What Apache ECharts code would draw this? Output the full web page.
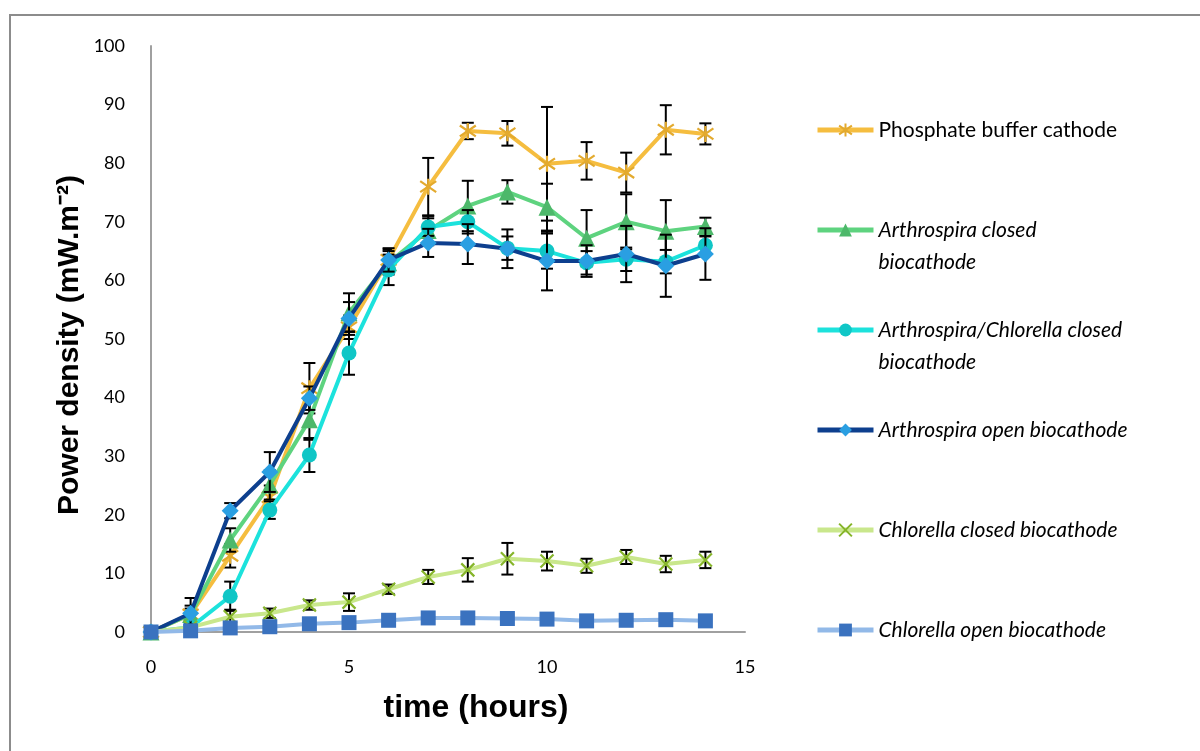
<!DOCTYPE html>
<html>
<head>
<meta charset="utf-8">
<script src="https://cdn.jsdelivr.net/npm/echarts@6/dist/echarts.min.js"></script>
<style>
  html, body { margin: 0; padding: 0; background: #fff; }
  #chart { width: 1200px; height: 751px; }
</style>
</head>
<body>
<div id="chart"></div>
<script>
// Sampling times (hours)
const hours = [0, 1, 2, 3, 4, 5, 6, 7, 8, 9, 10, 11, 12, 13, 14];

// Mean power density (mW.m-2) per cathode type
const phosphateBuffer      = [0, 3.0, 13.0, 23.0, 41.6, 52.0, 63.5, 76.0, 85.5, 85.1, 79.9, 80.4, 78.4, 85.7, 85.0];
const arthrospiraClosed    = [0, 3.0, 15.7, 25.1, 36.2, 54.5, 63.0, 68.5, 72.7, 75.1, 72.5, 67.2, 70.0, 68.4, 69.2];
const arthroChlorClosed    = [0, 0.8, 6.1, 20.8, 30.2, 47.6, 61.8, 69.1, 70.0, 65.5, 65.0, 63.0, 63.6, 63.2, 66.0];
const arthrospiraOpen      = [0, 3.2, 20.7, 27.3, 39.9, 53.5, 63.5, 66.4, 66.2, 65.4, 63.3, 63.3, 64.5, 62.5, 64.5];
const chlorellaClosed      = [0, 0.8, 2.6, 3.2, 4.6, 5.1, 7.3, 9.4, 10.6, 12.5, 12.1, 11.3, 12.8, 11.6, 12.3];
const chlorellaOpen        = [0, 0.2, 0.7, 0.9, 1.4, 1.6, 2.0, 2.4, 2.4, 2.3, 2.2, 1.9, 2.0, 2.1, 1.9];

// Standard deviations (symmetric error bars)
const phosphateBufferErr   = [0, 1.0, 2.0, 2.0, 4.3, 2.0, 1.8, 4.9, 1.4, 2.1, 9.7, 3.2, 3.4, 4.2, 1.8];
const arthrospiraClosedErr = [0, 1.5, 2.0, 2.5, 3.4, 3.3, 2.0, 2.5, 4.3, 2.0, 4.0, 4.8, 4.7, 5.3, 1.5];
const arthroChlorClosedErr = [0, 0.5, 2.5, 1.5, 2.9, 3.7, 2.6, 1.5, 2.0, 2.0, 3.0, 2.0, 2.0, 2.0, 1.5];
const arthrospiraOpenErr   = [0, 2.6, 1.3, 3.4, 2.0, 2.8, 2.0, 2.4, 3.4, 3.3, 5.0, 2.7, 4.8, 5.3, 4.4];
const chlorellaClosedErr   = [0, 0.5, 1.2, 0.8, 0.8, 1.5, 0.8, 1.2, 2.0, 2.7, 1.6, 1.2, 1.2, 1.4, 1.4];
const chlorellaOpenErr     = [0, 0.2, 0.3, 0.3, 0.3, 0.3, 0.3, 0.3, 0.3, 0.3, 0.3, 0.3, 0.3, 0.3, 0.3];

// Axis ticks
const xTicks = { min: 0, max: 15, interval: 5 };
const yTicks = { min: 0, max: 100, interval: 10 };

// Series names and legend lines
const seriesNames = [
  'Phosphate buffer cathode',
  'Arthrospira closed biocathode',
  'Arthrospira/Chlorella closed biocathode',
  'Arthrospira open biocathode',
  'Chlorella closed biocathode',
  'Chlorella open biocathode'
];
const legendLines = {
  'Phosphate buffer cathode': ['Phosphate buffer cathode'],
  'Arthrospira closed biocathode': ['Arthrospira closed', 'biocathode'],
  'Arthrospira/Chlorella closed biocathode': ['Arthrospira/Chlorella closed', 'biocathode'],
  'Arthrospira open biocathode': ['Arthrospira open biocathode'],
  'Chlorella closed biocathode': ['Chlorella closed biocathode'],
  'Chlorella open biocathode': ['Chlorella open biocathode']
};

const ASTERISK = 'path://M5,0L5,10M0.8,1.6L9.2,8.4M0.8,8.4L9.2,1.6';
const CROSS = 'path://M0,0L10,10M0,10L10,0';

const styles = [
  { line: '#F5BD3F', mark: '#E3AA2E', symbol: ASTERISK, size: 16, stroke: true },
  { line: '#5ED37F', mark: '#4DB86A', symbol: 'triangle', size: 17 },
  { line: '#1CE2DC', mark: '#10C6C6', symbol: 'circle', size: 15 },
  { line: '#0D3F8E', mark: '#2A9FE2', symbol: 'diamond', size: 17 },
  { line: '#C9E78C', mark: '#86B52A', symbol: CROSS, size: 13, stroke: true },
  { line: '#92B9E8', mark: '#3A72BF', symbol: 'rect', size: 15 }
];

const means = [phosphateBuffer, arthrospiraClosed, arthroChlorClosed, arthrospiraOpen, chlorellaClosed, chlorellaOpen];
const errs = [phosphateBufferErr, arthrospiraClosedErr, arthroChlorClosedErr, arthrospiraOpenErr, chlorellaClosedErr, chlorellaOpenErr];

const series = [];
means.forEach((vals, k) => {
  const st = styles[k];
  // error bars for this series
  series.push({
    type: 'custom',
    name: seriesNames[k] + ' SD',
    z: 3 + k * 2,
    silent: true,
    data: hours.map((h, i) => [h, vals[i], errs[k][i]]),
    renderItem: function (params, api) {
      const x = api.value(0), y = api.value(1), e = api.value(2);
      if (!e) return null;
      const hi = api.coord([x, y + e]);
      const lo = api.coord([x, y - e]);
      const cap = 6;
      const s = { stroke: '#000', lineWidth: 2 };
      return {
        type: 'group',
        children: [
          { type: 'line', shape: { x1: hi[0], y1: hi[1], x2: lo[0], y2: lo[1] }, style: s },
          { type: 'line', shape: { x1: hi[0] - cap, y1: hi[1], x2: hi[0] + cap, y2: hi[1] }, style: s },
          { type: 'line', shape: { x1: lo[0] - cap, y1: lo[1], x2: lo[0] + cap, y2: lo[1] }, style: s }
        ]
      };
    }
  });
  series.push({
    type: 'line',
    name: seriesNames[k],
    z: 4 + k * 2,
    data: hours.map((h, i) => [h, vals[i]]),
    symbol: st.symbol,
    symbolSize: st.size,
    showAllSymbol: true,
    lineStyle: { color: st.line, width: 4 },
    itemStyle: st.stroke
      ? { color: 'rgba(0,0,0,0)', borderColor: st.mark, borderWidth: 2.2 }
      : { color: st.mark, borderWidth: 0 },
    emphasis: { disabled: true },
    animation: false
  });
});

const chart = echarts.init(document.getElementById('chart'));
chart.setOption({
  animation: false,
  backgroundColor: '#fff',
  textStyle: { fontFamily: 'Lato, "Open Sans", sans-serif' },
  graphic: [{
    type: 'rect',
    shape: { x: 10, y: 15, width: 1400, height: 900 },
    style: { fill: 'none', stroke: '#8c8c8c', lineWidth: 2 },
    silent: true
  }],
  grid: { left: 151, right: 455, top: 46, bottom: 119, containLabel: false },
  legend: {
    left: 810,
    top: 77,
    orient: 'vertical',
    itemGap: 4,
    itemWidth: 56,
    itemHeight: 16,
    lineStyle: { width: 5 },
    data: seriesNames.map((n, k) => ({
      name: n,
      textStyle: { fontStyle: k === 0 ? 'normal' : 'italic' }
    })),
    formatter: function (name) {
      const ls = legendLines[name];
      return ' \n' + ls[0] + '\n' + (ls[1] || ' ');
    },
    textStyle: {
      color: '#000',
      fontSize: 21,
      lineHeight: 32,
      fontFamily: 'Lato, "Open Sans", sans-serif'
    },
    selectedMode: false
  },
  xAxis: {
    type: 'value',
    min: xTicks.min, max: xTicks.max, interval: xTicks.interval,
    name: 'time (hours)',
    nameLocation: 'middle',
    nameGap: 60,
    nameTextStyle: {
      fontFamily: '"Liberation Sans", Arial, sans-serif',
      fontWeight: 'bold', fontSize: 32, color: '#000',
      padding: [0, 0, 0, 56]
    },
    axisLine: { lineStyle: { color: '#a0a0a0', width: 2 } },
    axisTick: { show: false },
    splitLine: { show: false },
    axisLabel: { margin: 26, fontSize: 18, color: '#000' }
  },
  yAxis: {
    type: 'value',
    min: yTicks.min, max: yTicks.max, interval: yTicks.interval,
    name: 'Power density (mW.m⁻²)',
    nameLocation: 'middle',
    nameGap: 66,
    nameTextStyle: {
      fontFamily: '"Liberation Sans", Arial, sans-serif',
      fontWeight: 'bold', fontSize: 30, color: '#000',
      padding: [0, 12, 0, 0]
    },
    axisLine: { show: true, lineStyle: { color: '#a0a0a0', width: 2 } },
    axisTick: { show: false },
    splitLine: { show: false },
    axisLabel: { margin: 26, fontSize: 18, color: '#000' }
  },
  series: series
});
</script>
</body>
</html>
